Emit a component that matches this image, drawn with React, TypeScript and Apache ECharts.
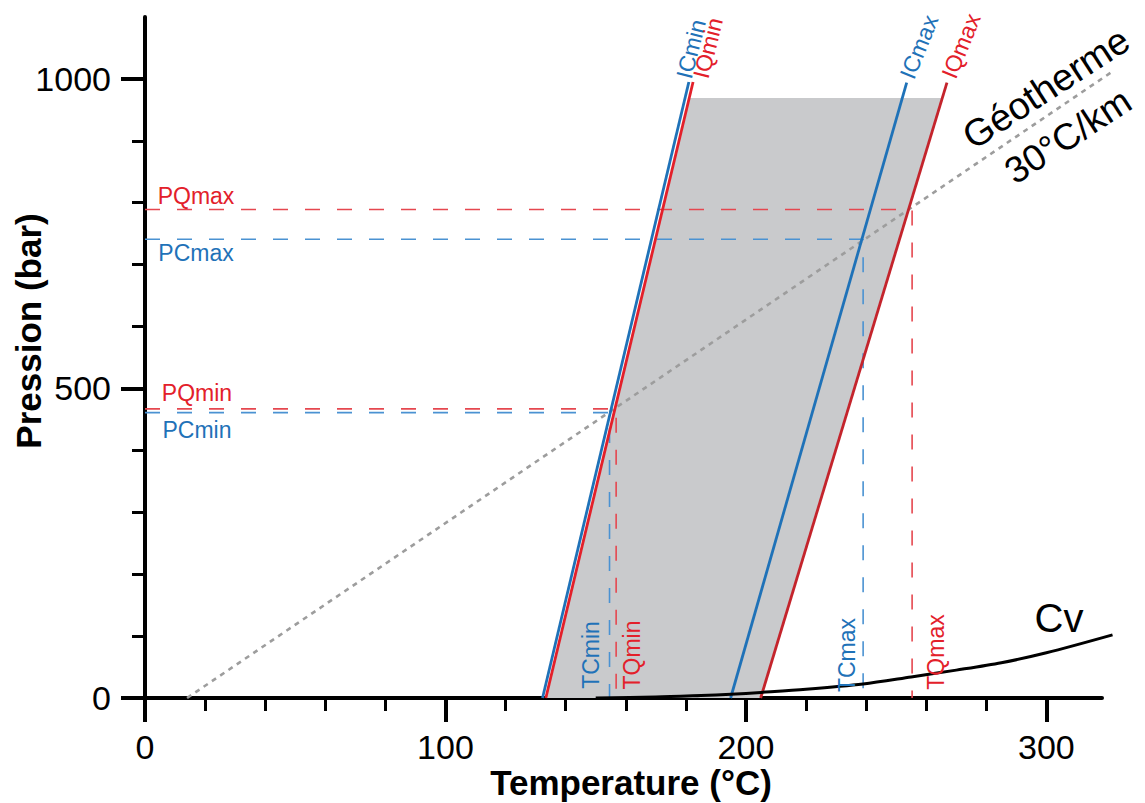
import React, { useEffect, useRef } from "react";
import * as echarts from "echarts";

// ---- data (Temperature °C, Pression bar) ----
const xMajorTicks = [0, 100, 200, 300];
const xMinorTicks = [20, 40, 60, 80, 120, 140, 160, 180, 220, 240, 260, 280];
const yMajorTicks = [0, 500, 1000];
const yMinorTicks = [100, 200, 300, 400, 600, 700, 800, 900];

const isoCmin = [[132.3, 0], [181.0, 995]];
const isoQmin = [[133.4, 0], [182.4, 995]];
const isoCmax = [[194.9, 0], [253.5, 994]];
const isoQmax = [[204.9, 0], [266.9, 994]];
const fluidZone = [[133.4, 0], [181.2, 969], [265.3, 969], [204.9, 0]];
const geotherm = [[14, 0], [322, 1012]];
const cvCurve = [
  [150, 0], [170, 1.5], [185, 4], [195, 6], [205, 9], [220, 14], [239, 22.6],
  [255, 34], [270, 45], [285, 57], [300, 73], [322, 102],
];
const PQmax = 789, PCmax = 741, PQmin = 467, PCmin = 461;
const TQmax = 255.3, TCmax = 239.0, TQmin = 156.8, TCmin = 154.6;

const BLUE = "#1f72b8";
const RED = "#e3202a";
const DARKRED = "#c4242c";
const RED_DASH = "#e5474f";
const BLUE_DASH = "#4a92d2";
const FONT = '"Liberation Sans", Arial, Helvetica, sans-serif';

const deg = (d: number) => (d * Math.PI) / 180;

function txt(text: string, x: number, y: number, size: number, color: string, rot = 0, weight = "normal") {
  return {
    type: "text",
    x,
    y,
    rotation: deg(rot),
    z: 50,
    style: {
      text,
      fill: color,
      fontSize: size,
      fontFamily: FONT,
      fontWeight: weight,
      textAlign: "center",
      textVerticalAlign: "middle",
      verticalAlign: "middle",
    },
  };
}

function dashed(points: number[][], color: string) {
  return {
    type: "line",
    data: points,
    symbol: "none",
    silent: true,
    z: 3,
    lineStyle: { color, width: 1.6, type: [15, 17] },
  };
}

// unclipped polyline drawn through the axes' scales (extends past the axis end)
function polylineSeries(points: number[][], z: number, style: any, smooth = 0) {
  return {
    type: "custom",
    data: points,
    z,
    silent: true,
    clip: false,
    renderItem: (params: any, api: any) => {
      if (params.dataIndex !== 0) return { type: "group", children: [] };
      return {
        type: "polyline",
        shape: { points: points.map((p) => api.coord(p)), smooth },
        style: { fill: null, ...style },
      };
    },
  };
}

export default function App() {
  const ref = useRef<HTMLDivElement>(null);
  useEffect(() => {
    if (!ref.current) return;
    const chart = echarts.init(ref.current, null, { renderer: "svg" });
    const axisCommon = {
      type: "value",
      splitLine: { show: false },
    };
    chart.setOption({
      animation: false,
      backgroundColor: "#ffffff",
      grid: { left: 145, top: 17, right: 43, bottom: 105, containLabel: false, outerBoundsMode: "none" },
      xAxis: [
        {
          ...axisCommon,
          min: 0,
          max: 318.5,
          position: "bottom",
          axisLine: { show: true, onZero: false, lineStyle: { color: "#000", width: 4 } },
          axisTick: { show: true, customValues: xMajorTicks, length: 24, lineStyle: { color: "#000", width: 4 } },
          axisLabel: {
            show: true, customValues: xMajorTicks, fontSize: 34, color: "#000", fontFamily: FONT, margin: 32,
            formatter: (v: number) => String(v),
          },
        },
        {
          ...axisCommon,
          min: 0,
          max: 318.5,
          position: "bottom",
          axisLine: { show: false },
          axisTick: { show: true, customValues: xMinorTicks, length: 13, lineStyle: { color: "#000", width: 3 } },
          axisLabel: { show: false },
        },
      ],
      yAxis: [
        {
          ...axisCommon,
          min: 0,
          max: 1100,
          position: "left",
          axisLine: { show: true, onZero: false, lineStyle: { color: "#000", width: 4 } },
          axisTick: { show: true, customValues: yMajorTicks, length: 24, lineStyle: { color: "#000", width: 4 } },
          axisLabel: {
            show: true, customValues: yMajorTicks, fontSize: 34, color: "#000", fontFamily: FONT, margin: 34,
            formatter: (v: number) => String(v),
          },
        },
        {
          ...axisCommon,
          min: 0,
          max: 1100,
          position: "left",
          axisLine: { show: false },
          axisTick: { show: true, customValues: yMinorTicks, length: 13, lineStyle: { color: "#000", width: 3 } },
          axisLabel: { show: false },
        },
      ],
      series: [
        {
          type: "custom",
          data: fluidZone,
          z: 1,
          silent: true,
          renderItem: (params: any, api: any) => {
            if (params.dataIndex !== 0) return { type: "group", children: [] };
            return {
              type: "polygon",
              shape: { points: fluidZone.map((p) => api.coord(p)) },
              style: { fill: "#c9cacc", stroke: "none" },
            };
          },
        },
        polylineSeries(geotherm, 2, { stroke: "#9d9d9d", lineWidth: 2.6, lineDash: [5, 5] }),
        dashed([[0, PQmax], [TQmax, PQmax], [TQmax, 0]], RED_DASH),
        dashed([[0, PCmax], [TCmax, PCmax], [TCmax, 0]], BLUE_DASH),
        dashed([[0, PQmin], [TQmin, PQmin], [TQmin, 0]], RED_DASH),
        dashed([[0, PCmin], [TCmin, PCmin], [TCmin, 0]], BLUE_DASH),
        { type: "line", data: isoCmin, symbol: "none", z: 4, lineStyle: { color: BLUE, width: 2.8 } },
        { type: "line", data: isoQmin, symbol: "none", z: 4, lineStyle: { color: RED, width: 2.8 } },
        { type: "line", data: isoCmax, symbol: "none", z: 4, lineStyle: { color: BLUE, width: 2.8 } },
        { type: "line", data: isoQmax, symbol: "none", z: 4, lineStyle: { color: DARKRED, width: 2.8 } },
        polylineSeries(cvCurve, 5, { stroke: "#000", lineWidth: 3 }, 0.3),
      ],
      graphic: [
        txt("Temperature (°C)", 631, 782, 35, "#000", 0, "bold"),
        txt("Pression (bar)", 28, 331, 35, "#000", 90, "bold"),
        txt("PQmax", 196, 196, 23, RED),
        txt("PCmax", 196, 253, 23, BLUE),
        txt("PQmin", 197, 393, 23, RED),
        txt("PCmin", 197, 430, 23, BLUE),
        txt("TCmin", 591, 655, 23, BLUE, 90),
        txt("TQmin", 632, 655, 23, RED, 90),
        txt("TCmax", 847, 655, 23, BLUE, 90),
        txt("TQmax", 936, 652, 23, RED, 90),
        txt("ICmin", 691, 49, 23, BLUE, 76),
        txt("IQmin", 708, 48, 23, RED, 76),
        txt("ICmax", 919, 47, 23, BLUE, 68),
        txt("IQmax", 961, 46, 23, RED, 68),
        txt("Cv", 1059, 618, 40, "#000"),
        txt("Géotherme", 1046, 88, 38, "#000", 33),
        txt("30°C/km", 1068, 136, 37, "#000", 33),
      ],
    });
    return () => chart.dispose();
  }, []);
  return <div ref={ref} style={{ width: 1145, height: 803, position: "absolute", left: 0, top: 0 }} />;
}
